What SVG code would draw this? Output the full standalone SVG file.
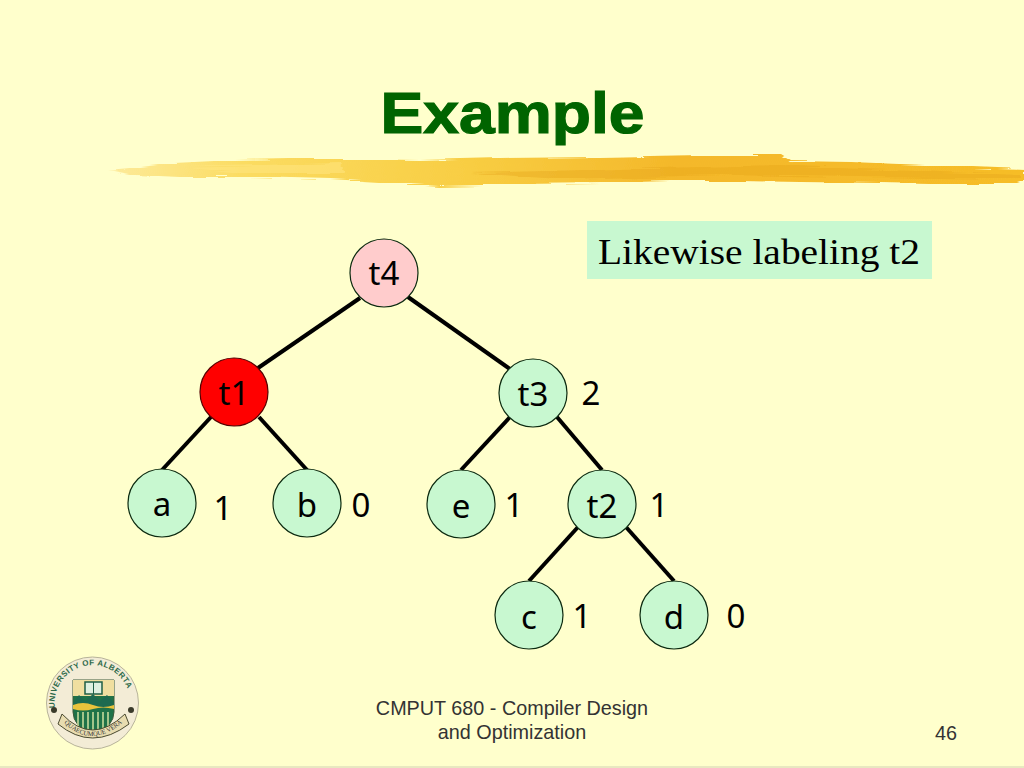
<svg xmlns="http://www.w3.org/2000/svg" width="1024" height="768" viewBox="0 0 1024 768">
<style>
.edge{stroke:#000;stroke-width:4;fill:none}
.n{fill:#c8f8d0;stroke:#0c2a10;stroke-width:1.2}
.t,.lab{font-family:"Noto Sans",Tahoma,sans-serif;font-size:33px;fill:#000;text-anchor:middle}
.f{font-family:"Liberation Sans",Arial,sans-serif;font-size:19.800px;fill:#333;text-anchor:middle}
</style>
<defs>
<linearGradient id="brush" x1="105" x2="1024" y1="0" y2="0" gradientUnits="userSpaceOnUse">
<stop offset="0" stop-color="#fdeb9c"/><stop offset="0.15" stop-color="#fbdc62"/><stop offset="0.4" stop-color="#f8cd42"/><stop offset="0.62" stop-color="#f4b82a"/><stop offset="1" stop-color="#f6bd28"/>
</linearGradient>
<filter id="rough" filterUnits="userSpaceOnUse" x="90" y="140" width="950" height="60">
<feTurbulence type="fractalNoise" baseFrequency="0.012 0.45" numOctaves="3" seed="4"/>
<feDisplacementMap in="SourceGraphic" scale="6" xChannelSelector="R" yChannelSelector="G"/>
</filter>
<path id="arcTop" d="M54.800 708 A38 38 0 1 1 130.200 708"/>
<path id="arcBot" d="M64 723 Q92 749 122 723"/>
</defs>
<rect width="1024" height="768" fill="#ffffcc"/>
<rect y="766" width="1024" height="2" fill="#e8e8c0"/>
<g id="title-rule" filter="url(#rough)">
<path fill="url(#brush)" d="M108 170 L140 167 L175 163 L235 160 L290 159 L345 159 L420 160 L500 158 L600 157 L700 155 L780 155 L790 161 L850 162 L950 166 L1024 169 L1024 181 L1015 184 L930 184 L880 183 L800 182 L740 181 L670 181 L600 183 L520 184 L440 186 L395 183 L330 179 L250 177 L180 177 L135 175 Z"/>
<path fill="#e6a51c" opacity="0.4" d="M470 173 L780 165 L860 169 L1020 175 L1020 179 L860 177 L720 175 L560 179 Z"/>
<path fill="#ffe680" opacity="0.55" d="M180 167 L340 163 L345 173 L240 173 Z"/>
</g>
<text x="512.500" y="133" font-family="'Liberation Sans',Arial,sans-serif" font-size="58" font-weight="700" fill="#006400" stroke="#006400" stroke-width="1.200" text-anchor="middle" textLength="264" lengthAdjust="spacingAndGlyphs">Example</text>
<g id="callout">
<rect x="587" y="221" width="345" height="58" fill="#c8f8d0"/>
<text x="598" y="264" font-family="'Liberation Serif','Times New Roman',serif" font-size="36" fill="#000" textLength="322" lengthAdjust="spacingAndGlyphs">Likewise labeling t2</text>
</g>
<g id="connectors">
<line class="edge" x1="360" y1="298" x2="258" y2="368"/>
<line class="edge" x1="408" y1="297" x2="510" y2="369"/>
<line class="edge" x1="211" y1="417" x2="162" y2="470"/>
<line class="edge" x1="259" y1="417" x2="307" y2="470"/>
<line class="edge" x1="510" y1="417" x2="461" y2="470"/>
<line class="edge" x1="557" y1="417" x2="602" y2="470"/>
<line class="edge" x1="578" y1="527" x2="529" y2="581"/>
<line class="edge" x1="626" y1="527" x2="674" y2="581"/>
</g>
<g id="node-t4"><circle class="n" cx="384" cy="273" r="34" style="fill:#ffcccc"/><text class="t" x="384" y="285">t4</text></g>
<g id="node-t1"><circle class="n" cx="234" cy="392" r="34" style="fill:#ff0000;stroke:#500"/><text class="t" x="234" y="405">t1</text></g>
<g id="node-t3"><circle class="n" cx="533" cy="393" r="34"/><text class="t" x="533" y="406">t3</text></g>
<g id="node-a"><circle class="n" cx="162" cy="503" r="34"/><text class="t" x="162" y="516">a</text></g>
<g id="node-b"><circle class="n" cx="307" cy="503" r="34"/><text class="t" x="307" y="517">b</text></g>
<g id="node-e"><circle class="n" cx="461" cy="504" r="34"/><text class="t" x="461" y="518">e</text></g>
<g id="node-t2"><circle class="n" cx="602" cy="504" r="34"/><text class="t" x="602" y="518">t2</text></g>
<g id="node-c"><circle class="n" cx="529" cy="615" r="34"/><text class="t" x="529" y="629">c</text></g>
<g id="node-d"><circle class="n" cx="674" cy="615" r="34"/><text class="t" x="674" y="629">d</text></g>
<g id="labels">
<text class="lab" x="591" y="405">2</text>
<text class="lab" x="223" y="520">1</text>
<text class="lab" x="361" y="517">0</text>
<text class="lab" x="514" y="517">1</text>
<text class="lab" x="659" y="517">1</text>
<text class="lab" x="582" y="628">1</text>
<text class="lab" x="736" y="628">0</text>
</g>
<g id="logo">
<circle cx="92.500" cy="703" r="46" fill="#f3ecd6" stroke="#b8b49a" stroke-width="1"/>
<text font-family="'Liberation Sans',sans-serif" font-size="8" font-weight="700" fill="#2e6a4a" letter-spacing="0.4"><textPath href="#arcTop">UNIVERSITY OF ALBERTA</textPath></text>
<path d="M73 680 H114 V712 Q114 726 93.500 736 Q73 726 73 712 Z" fill="#1f7248" stroke="#3d5a3a" stroke-width="1"/>
<path d="M73 680 H114 V696 H73 Z" fill="#f0dfa0"/>
<rect x="85" y="682" width="17" height="12" fill="#dff0e0" stroke="#1f5f45" stroke-width="1.500"/>
<line x1="93.500" y1="682" x2="93.500" y2="694" stroke="#1f5f45"/>
<path d="M73 703 L79 695 L85 701 L93 694 L100 701 L107 695 L114 703 V708 H73 Z" fill="#1d6a50"/>
<path d="M73 705 Q83 701 93 705 T114 705 V709 Q103 706 93 709 T73 709 Z" fill="#e9c33c"/>
<path d="M78 712 V726 M83 712 V730 M88 712 V733 M93 712 V734 M98 712 V733 M103 712 V730 M108 712 V726" stroke="#cfe0a0" stroke-width="1.500" fill="none"/>
<path d="M62 714 Q92 746 125 714 L129 724 Q92 752 58 724 Z" fill="#e8dcb0" stroke="#4a4a30" stroke-width="1"/>
<text font-family="'Liberation Serif',serif" font-size="6.500" fill="#333"><textPath href="#arcBot">QUAECUMQUE VERA</textPath></text>
<circle cx="54" cy="710" r="3" fill="#3a3a2a"/>
<circle cx="131" cy="710" r="3" fill="#3a3a2a"/>
</g>
<g id="footer">
<text class="f" x="512" y="715">CMPUT 680 - Compiler Design</text>
<text class="f" x="512" y="739">and Optimization</text>
<text class="f" x="946" y="740">46</text>
</g>
</svg>
